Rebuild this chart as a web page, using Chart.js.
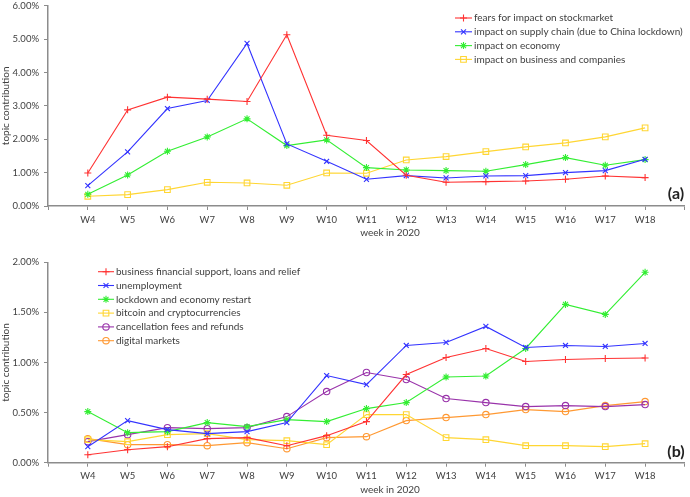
<!DOCTYPE html>
<html>
<head>
<meta charset="utf-8">
<script src="https://cdn.jsdelivr.net/npm/chart.js@4.4.1/dist/chart.umd.min.js"></script>
<style>
  html, body { margin: 0; padding: 0; background: #fff; }
  .panel { position: absolute; left: 0; width: 690px; }
  #wrap-a { top: 0; height: 240px; }
  #wrap-b { top: 245px; height: 252px; }
</style>
</head>
<body>
<div class="panel" id="wrap-a"><canvas id="chart-a" width="690" height="240"></canvas></div>
<div class="panel" id="wrap-b"><canvas id="chart-b" width="690" height="252"></canvas></div>
<script>
// 周次与两张图的数据（单位：%）
var weeks = ["W4", "W5", "W6", "W7", "W8", "W9", "W10", "W11", "W12", "W13", "W14", "W15", "W16", "W17", "W18"];

var stockmarket = [0.99, 2.88, 3.26, 3.20, 3.13, 5.13, 2.12, 1.96, 0.92, 0.71, 0.73, 0.75, 0.80, 0.90, 0.85];
var supplyChain = [0.61, 1.62, 2.92, 3.16, 4.87, 1.86, 1.34, 0.80, 0.91, 0.84, 0.90, 0.91, 1.00, 1.06, 1.40];
var economy     = [0.35, 0.93, 1.64, 2.07, 2.61, 1.81, 1.98, 1.15, 1.08, 1.06, 1.04, 1.24, 1.45, 1.22, 1.39];
var business    = [0.29, 0.34, 0.49, 0.71, 0.69, 0.62, 0.99, 0.98, 1.38, 1.48, 1.63, 1.77, 1.89, 2.07, 2.34];

var support      = [0.08, 0.13, 0.16, 0.24, 0.25, 0.17, 0.27, 0.41, 0.88, 1.05, 1.14, 1.01, 1.03, 1.04, 1.045];
var unemployment = [0.16, 0.42, 0.33, 0.29, 0.31, 0.40, 0.87, 0.78, 1.17, 1.20, 1.36, 1.15, 1.17, 1.16, 1.19];
var lockdown     = [0.51, 0.30, 0.31, 0.40, 0.36, 0.43, 0.41, 0.54, 0.60, 0.855, 0.865, 1.14, 1.58, 1.48, 1.90];
var bitcoin      = [0.23, 0.21, 0.28, 0.29, 0.23, 0.22, 0.18, 0.48, 0.48, 0.25, 0.23, 0.17, 0.17, 0.16, 0.19];
var cancellation = [0.21, 0.28, 0.35, 0.34, 0.35, 0.46, 0.71, 0.90, 0.83, 0.64, 0.60, 0.56, 0.57, 0.56, 0.58];
var digital      = [0.24, 0.18, 0.18, 0.17, 0.20, 0.14, 0.25, 0.26, 0.42, 0.45, 0.48, 0.53, 0.51, 0.57, 0.61];

var ticksA = [0, 1, 2, 3, 4, 5, 6];
var ticksB = [0, 0.5, 1, 1.5, 2];

(function () {
  var FONT = "Lato, 'Open Sans', sans-serif";
  var TXT = "#404040";
  var AXIS = "#8c8c8c";
  Chart.defaults.font.family = FONT;
  Chart.defaults.font.size = 9.5;
  Chart.defaults.color = TXT;
  Chart.defaults.animation = false;

  // 两端各留一个空类目，让 W4 离开 y 轴一格
  var labels = [""].concat(weeks, [""]);
  function pad(arr) { return [null].concat(arr, [null]); }

  function series(label, data, color, style, radius) {
    return {
      label: label, data: pad(data),
      borderColor: color, backgroundColor: color,
      borderWidth: 1.1,
      pointStyle: style, pointRadius: radius, pointBorderWidth: 1.1,
      pointBorderColor: color,
      pointBackgroundColor: (style === "rect" || style === "circle") ? "rgba(255,255,255,0)" : color,
      tension: 0
    };
  }

  // 图例画在绘图区内，x0..x1 为图例线段，x2 为文字起点
  function legendPlugin(x0, x1, x2, y0, dy) {
    return {
      id: "inlineLegend",
      afterDraw: function (chart) {
        var ctx = chart.ctx;
        ctx.save();
        chart.data.datasets.forEach(function (ds, i) {
          var y = y0 + i * dy;
          ctx.strokeStyle = ds.borderColor;
          ctx.lineWidth = 1.1;
          ctx.beginPath(); ctx.moveTo(x0, y); ctx.lineTo(x1, y); ctx.stroke();
          ctx.fillStyle = ds.pointBackgroundColor;
          Chart.helpers.drawPoint(ctx, { pointStyle: ds.pointStyle, rotation: 0, radius: ds.pointRadius, borderWidth: 1.1 }, (x0 + x1) / 2, y);
          ctx.fillStyle = TXT;
          ctx.font = "10px " + FONT;
          ctx.textBaseline = "middle";
          ctx.textAlign = "left";
          ctx.fillText(ds.label, x2, y);
        });
        ctx.restore();
      }
    };
  }

  function notePlugin(tag, tx, ty, title, ttx, tty) {
    return {
      id: "notes",
      afterDraw: function (chart) {
        var ctx = chart.ctx;
        ctx.save();
        ctx.fillStyle = "#222";
        ctx.font = "bold 16px " + FONT;
        ctx.textAlign = "center";
        ctx.textBaseline = "middle";
        ctx.fillText(tag, tx, ty);
        ctx.fillStyle = TXT;
        ctx.font = "10px " + FONT;
        ctx.fillText(title, ttx, tty);
        ctx.restore();
      }
    };
  }

  function options(maxY, stepY, topPad, xHeight) {
    return {
      responsive: false,
      layout: { padding: { top: topPad, left: 0, right: 0, bottom: 0 } },
      plugins: { legend: { display: false }, tooltip: { enabled: false } },
      scales: {
        x: {
          type: "category",
          offset: false,
          grid: { drawOnChartArea: false, drawTicks: true, tickLength: 4, color: AXIS, lineWidth: 1 },
          border: { color: AXIS, width: 1.5 },
          ticks: { autoSkip: false, maxRotation: 0, padding: 4, color: TXT },
          afterFit: function (s) { s.height = xHeight; s.paddingLeft = 0; s.paddingRight = 0; }
        },
        y: {
          min: 0, max: maxY,
          grid: { drawOnChartArea: false, drawTicks: true, tickLength: 4, color: AXIS, lineWidth: 1 },
          border: { color: AXIS, width: 1.5 },
          ticks: {
            stepSize: stepY, padding: 5, color: TXT,
            callback: function (v) { return v.toFixed(2) + "%"; }
          },
          title: { display: true, text: "topic contribution", font: { size: 10 }, padding: 0, color: TXT },
          afterFit: function (s) { s.width = 48; s.paddingTop = 0; s.paddingBottom = 0; }
        }
      }
    };
  }

  new Chart(document.getElementById("chart-a"), {
    type: "line",
    data: {
      labels: labels,
      datasets: [
        series("fears for impact on stockmarket", stockmarket, "#ff3333", "cross", 3.5),
        series("impact on supply chain (due to China lockdown)", supplyChain, "#3333ff", "crossRot", 3.5),
        series("impact on economy", economy, "#33ee33", "star", 3.5),
        series("impact on business and companies", business, "#ffd633", "rect", 4)
      ]
    },
    options: options(ticksA[ticksA.length - 1], ticksA[1] - ticksA[0], 5.7, 34),
    plugins: [legendPlugin(455, 472, 474, 18, 13.8), notePlugin("(a)", 676, 194, "week in 2020", 390, 233)]
  });

  new Chart(document.getElementById("chart-b"), {
    type: "line",
    data: {
      labels: labels,
      datasets: [
        series("business financial support, loans and relief", support, "#ff3333", "cross", 3.5),
        series("unemployment", unemployment, "#3333ff", "crossRot", 3.5),
        series("lockdown and economy restart", lockdown, "#33ee33", "star", 3.5),
        series("bitcoin and cryptocurrencies", bitcoin, "#ffd633", "rect", 4),
        series("cancellation fees and refunds", cancellation, "#9933aa", "circle", 3.2),
        series("digital markets", digital, "#ff9933", "circle", 3.2)
      ]
    },
    options: options(ticksB[ticksB.length - 1], ticksB[1] - ticksB[0], 17.3, 34.3),
    plugins: [legendPlugin(98, 114, 116, 26.7, 13.8), notePlugin("(b)", 676, 207, "week in 2020", 390, 245)]
  });
})();
</script>
</body>
</html>
